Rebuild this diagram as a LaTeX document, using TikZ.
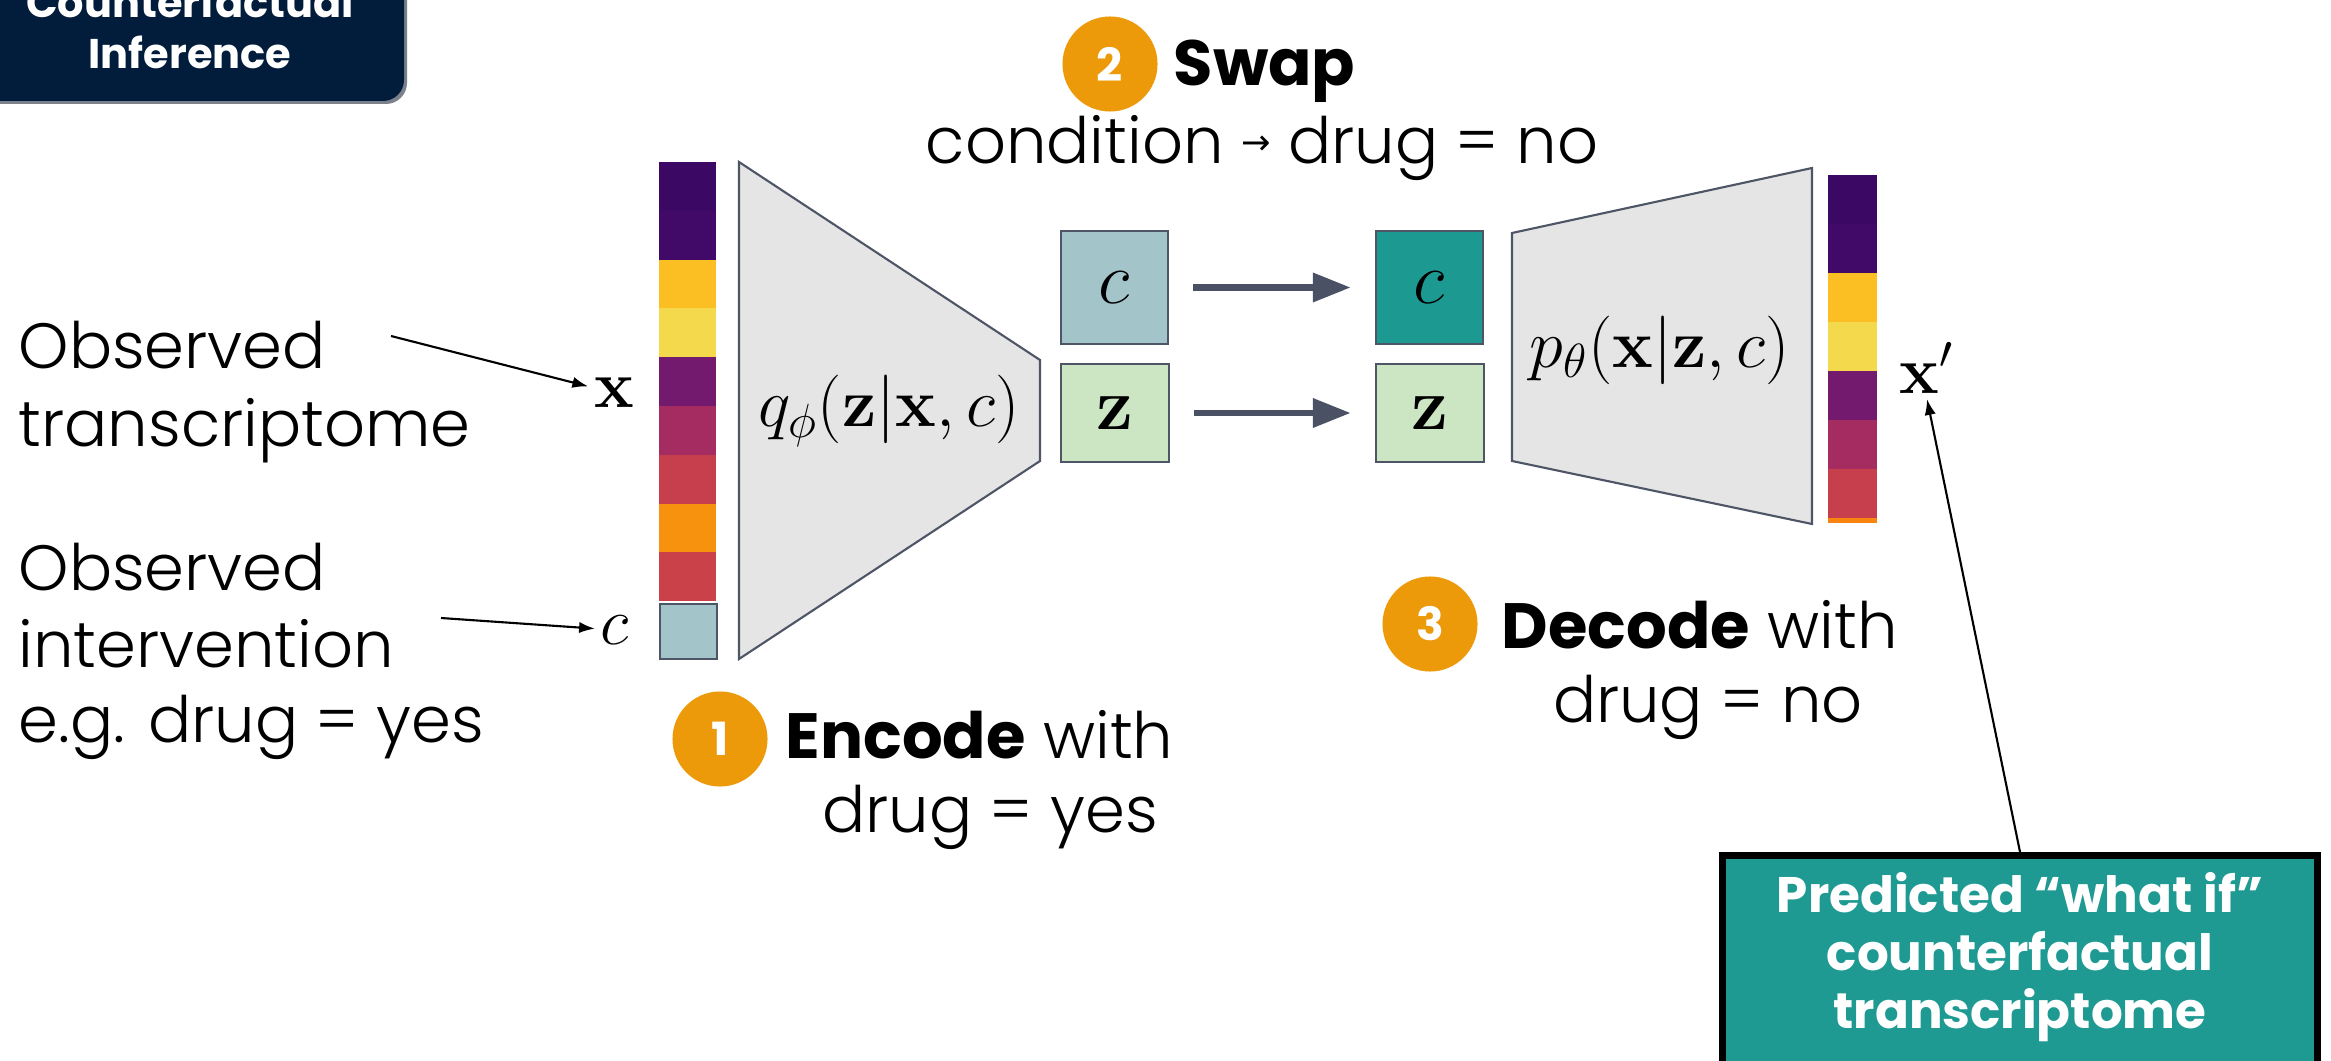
\RequirePackage{fix-cm}
\documentclass[tikz,border=0pt]{standalone}
\usepackage[no-math]{fontspec}
\setmainfont{Poppins}[UprightFont={* Light}, BoldFont={* Bold}]
\newfontfamily\arrowfont{DejaVu Sans}
\usetikzlibrary{arrows.meta}

\definecolor{navy}{HTML}{021C3B}
\definecolor{tabedge}{HTML}{7B808A}
\definecolor{trapfill}{HTML}{E5E5E5}
\definecolor{slate}{HTML}{4E5567}
\definecolor{arrowgray}{HTML}{4A5164}
\definecolor{clight}{HTML}{A3C4C9}
\definecolor{zgreen}{HTML}{CCE5C2}
\definecolor{cteal}{HTML}{1C9A92}
\definecolor{amber}{HTML}{EC9A0A}
\definecolor{predfill}{HTML}{1E9A93}
% inferno-like cell colours
\definecolor{infA}{HTML}{3B0964}
\definecolor{infB}{HTML}{420A68}
\definecolor{infC}{HTML}{FBBE23}
\definecolor{infD}{HTML}{F3D94B}
\definecolor{infE}{HTML}{741A6E}
\definecolor{infF}{HTML}{A52C60}
\definecolor{infG}{HTML}{C73E4C}
\definecolor{infH}{HTML}{F7920F}
\definecolor{infI}{HTML}{CB4149}
\definecolor{infJ}{HTML}{F8850F}

\begin{document}
\begin{tikzpicture}[x=0.01cm, y=-0.01cm,
  txt/.style={inner sep=0pt, font=\fontsize{18.2}{22}\selectfont},
  tabtxt/.style={inner sep=0pt, text=white, font=\fontsize{11.8}{13}\bfseries},
  predtxt/.style={inner sep=0pt, text=white, font=\fontsize{14.2}{16}\bfseries},
  numdot/.style={circle, fill=amber, text=white, minimum size=0.95cm, inner sep=0pt,
                 font=\fontsize{13}{13}\bfseries},
  trap/.style={fill=trapfill, draw=slate, line width=0.6pt, line join=miter},
  latent/.style={draw=slate, line width=0.7pt, inner sep=0pt,
                 font=\fontsize{21}{21}\selectfont},
  mathlab/.style={inner sep=0pt, font=\fontsize{19.5}{22}\selectfont},
  varlab/.style={inner sep=1.5pt, font=\fontsize{19}{19}\selectfont},
  fatarrow/.style={draw=arrowgray, line width=1.85pt,
                   -{Triangle[length=10.8pt, width=8pt]}, color=arrowgray},
  pointer/.style={draw=black, line width=0.6pt, -{Latex[length=4.5pt, width=3.2pt]}},
  predbox/.style={fill=predfill, draw=black, line width=2pt, inner sep=0pt}
]
\useasboundingbox (0,0) rectangle (2331,1061);

% title tab in the corner
\fill[tabedge, rounded corners=6pt] (-60,-60) rectangle (407,104);
\fill[navy, rounded corners=6pt] (-60,-60) rectangle (404,101);
\node[tabtxt, anchor=base] (tabA) at (190,18) {Counterfactual};
\node[tabtxt, anchor=base] (tabB) at (190,69) {Inference};

% input vector x and condition c
\foreach \col [count=\i] in {infA,infB,infC,infD,infE,infF,infG,infH,infI}
  \fill[\col] (659,{162+(\i-1)*48.8}) rectangle (716,{162+\i*48.8});
\draw[fill=clight, draw=slate, line width=0.7pt] (660,604) rectangle (717,659);

% encoder
\draw[trap] (739,162) -- (1040,360) -- (1040,461) -- (739,659) -- cycle;
\node[mathlab] (enc) at (889,411) {$q_\phi(\mathbf{z}|\mathbf{x},c)$};

% latent and condition boxes
\node[latent, fill=clight, minimum width=1.07cm, minimum height=1.13cm] (c1) at (1114.5,287.5) {$c$};
\node[latent, fill=zgreen, minimum width=1.08cm, minimum height=0.98cm] (z1) at (1115,413) {$\mathbf{z}$};
\node[latent, fill=cteal, minimum width=1.07cm, minimum height=1.13cm] (c2) at (1429.5,287.5) {$c$};
\node[latent, fill=zgreen, minimum width=1.08cm, minimum height=0.98cm] (z2) at (1430,413) {$\mathbf{z}$};
\draw[fatarrow, shorten <=0.24cm, shorten >=0.24cm] (c1.east) -- (c2.west);
\draw[fatarrow, shorten <=0.24cm, shorten >=0.24cm] (z1.east) -- (z2.west);

% decoder
\draw[trap] (1512,233) -- (1812,168) -- (1812,524) -- (1512,461) -- cycle;
\node[mathlab] (dec) at (1660,350) {$p_\theta(\mathbf{x}|\mathbf{z},c)$};

% reconstructed vector x'
\foreach \col [count=\i] in {infA,infB,infC,infD,infE,infF,infG}
  \fill[\col] (1828,{175+(\i-1)*49}) rectangle (1877,{175+\i*49});
\fill[infJ] (1828,518) rectangle (1877,523);

% variable labels
\node[varlab] (xin) at (614,393) {$\mathbf{x}$};
\node[varlab] (cin) at (615,630) {$c$};
\node[varlab] (xout) at (1927,368) {$\mathbf{x}'$};

% left descriptions
\node[txt, anchor=base west] (obs1) at (18,369) {Observed};
\node[txt, anchor=base west] (obs2) at (18,446) {transcriptome};
\node[txt, anchor=base west] (int1) at (18,590) {Observed};
\node[txt, anchor=base west] (int2) at (18,667) {intervention};
\node[txt, anchor=base west] (int3) at (18,742) {e.g. drug = yes};
\coordinate (obsarrow) at (391,336);
\coordinate (intarrow) at (441,618);
\draw[pointer] (obsarrow) -- (xin);
\draw[pointer] (intarrow) -- (cin);

% step 1: encode
\node[numdot] (s1) at (720,739) {1};
\node[txt, anchor=base west] (enc1) at (785,758) {\textbf{Encode} with};
\node[txt, anchor=base] (enc2) at (990,832) {drug = yes};

% step 2: swap
\node[numdot] (s2) at (1110,64) {2};
\node[txt, anchor=base west] (swap1) at (1173,86) {\textbf{Swap}};
\node[txt, anchor=base] (swap2) at (1262,164) {condition \raisebox{2.6pt}{\arrowfont\fontsize{10}{10}\selectfont →} drug = no};

% step 3: decode
\node[numdot] (s3) at (1430,624) {3};
\node[txt, anchor=base west] (dec1) at (1501,648) {\textbf{Decode} with};
\node[txt, anchor=base] (dec2) at (1708,722) {drug = no};

% prediction callout
\node[predbox, minimum width=5.94cm, minimum height=2.6cm, anchor=north] (pred) at (2020,852) {};
\node[predtxt, anchor=base] (p1) at (2020,912) {Predicted “what if”};
\node[predtxt, anchor=base] (p2) at (2020,970) {counterfactual};
\node[predtxt, anchor=base] (p3) at (2020,1028) {transcriptome};
\draw[pointer] (pred.north) -- (xout.south);
\end{tikzpicture}
\end{document}
